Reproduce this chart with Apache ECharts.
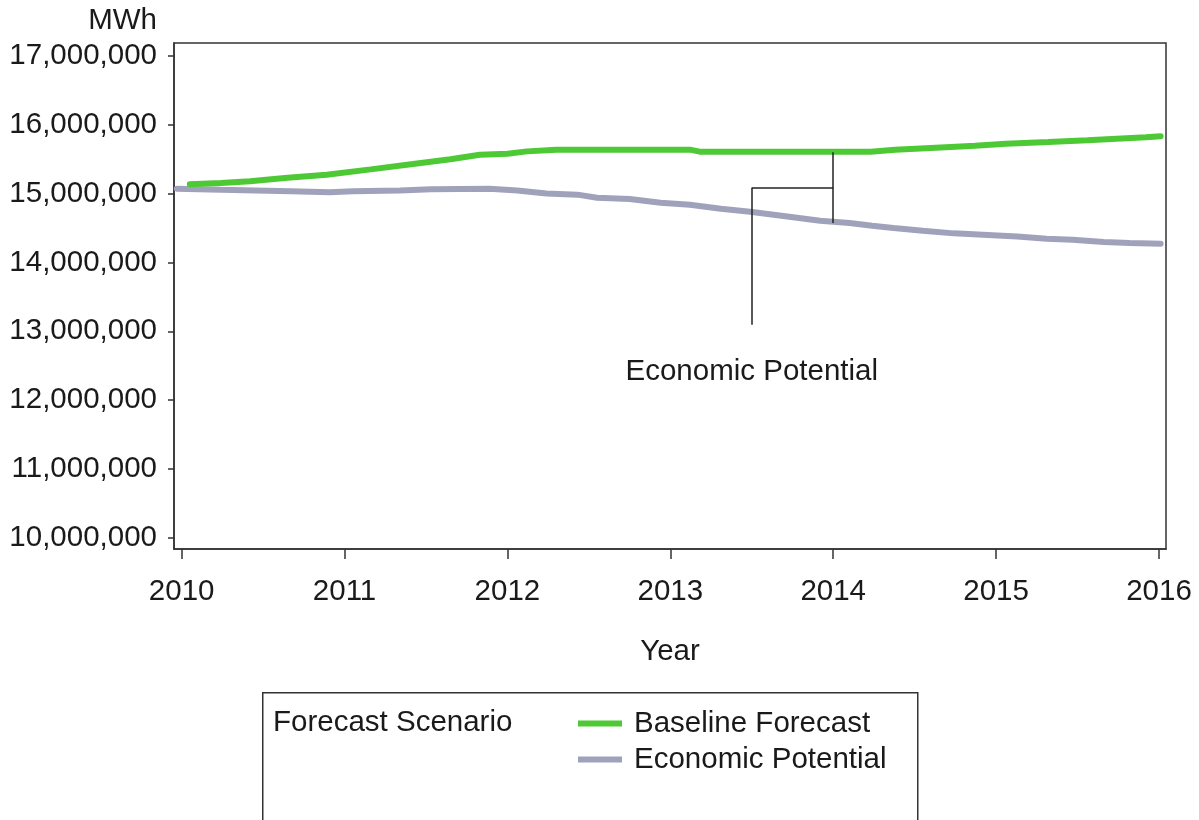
<!DOCTYPE html>
<html>
<head>
<meta charset="utf-8">
<script src="https://cdn.jsdelivr.net/npm/echarts@6/dist/echarts.min.js"></script>
<style>
html,body{margin:0;padding:0;background:#fff;}
#chart{width:1199px;height:820px;}
</style>
</head>
<body>
<div id="chart"></div>
<script>
// ---- Data ----
const yearTicks = [2010, 2011, 2012, 2013, 2014, 2015, 2016];
const valueTicks = [10000000, 11000000, 12000000, 13000000, 14000000, 15000000, 16000000, 17000000];

const baselineYears = [2010.05, 2010.24, 2010.42, 2010.65, 2010.89, 2011.16, 2011.42, 2011.65, 2011.83, 2012.00, 2012.12, 2012.30, 2013.12, 2013.18, 2014.23, 2014.38, 2014.66, 2014.87, 2015.06, 2015.32, 2015.56, 2015.74, 2015.92, 2016.01];
const baselineValues = [15135000, 15152000, 15176000, 15229000, 15273000, 15350000, 15428000, 15498000, 15563000, 15578000, 15611000, 15636000, 15636000, 15607000, 15607000, 15636000, 15669000, 15694000, 15723000, 15747000, 15771000, 15795000, 15817000, 15832000];

const economicYears = [2009.97, 2010.24, 2010.67, 2010.91, 2011.05, 2011.34, 2011.53, 2011.89, 2012.06, 2012.24, 2012.43, 2012.55, 2012.75, 2012.94, 2013.12, 2013.31, 2013.49, 2013.73, 2013.92, 2014.10, 2014.24, 2014.37, 2014.55, 2014.74, 2014.92, 2015.13, 2015.31, 2015.47, 2015.66, 2015.82, 2016.01];
const economicValues = [15070000, 15055000, 15033000, 15019000, 15033000, 15044000, 15062000, 15070000, 15044000, 15001000, 14983000, 14939000, 14920000, 14866000, 14837000, 14779000, 14736000, 14663000, 14605000, 14572000, 14533000, 14499000, 14460000, 14421000, 14402000, 14377000, 14344000, 14329000, 14296000, 14282000, 14271000];

// annotation (bracket + label) in data space
const annotYear = 2014;
const annotTop = 15597000;
const annotBottom = 14572000;
const annotLeftYear = 2013.5;
const annotStemBottom = 13096000;
const annotLabelValue = 12413000;
const annotLabel = 'Economic Potential';

const seriesNames = ['Baseline Forecast', 'Economic Potential'];
const legendTitle = 'Forecast Scenario';
// ---------------------------------------

const FONT = 'Liberation Sans, Arial, sans-serif';
const FS = 29.5;
const TXT = '#1a1a1a';
const AX = '#333333';
const fmt = v => Math.round(v).toString().replace(/\B(?=(\d{3})+(?!\d))/g, ',');
const annotMid = (annotTop + annotBottom) / 2;

const chart = echarts.init(document.getElementById('chart'), null, {renderer: 'canvas'});
chart.setOption({
  backgroundColor: '#ffffff',
  animation: false,
  grid: {
    left: 174, top: 43, right: 33, bottom: 271,
    show: true, borderColor: AX, borderWidth: 1.5, backgroundColor: 'transparent'
  },
  xAxis: {
    type: 'value',
    min: 2009.953, max: 2016.043,
    name: 'Year', nameLocation: 'middle', nameGap: 88,
    nameTextStyle: {fontFamily: FONT, fontSize: FS, color: TXT},
    axisLine: {show: true, onZero: false, lineStyle: {color: AX, width: 1.5}},
    axisTick: {show: true, length: 10, customValues: yearTicks, lineStyle: {color: AX, width: 1.5}},
    axisLabel: {customValues: yearTicks, margin: 28, fontFamily: FONT, fontSize: FS, color: TXT, formatter: v => String(Math.round(v))},
    splitLine: {show: false}
  },
  yAxis: {
    type: 'value',
    min: 9840000, max: 17184000,
    name: 'MWh', nameLocation: 'end', nameGap: 7,
    nameTextStyle: {fontFamily: FONT, fontSize: FS, color: TXT, align: 'right', padding: [0, 17, 0, 0]},
    axisLine: {show: true, onZero: false, lineStyle: {color: AX, width: 1.5}},
    axisTick: {show: true, length: 6, customValues: valueTicks, lineStyle: {color: AX, width: 1.5}},
    axisLabel: {customValues: valueTicks, margin: 17, fontFamily: FONT, fontSize: FS, color: TXT, formatter: fmt},
    splitLine: {show: false}
  },
  legend: {
    orient: 'vertical', left: 573, top: 703,
    icon: 'rect', itemWidth: 44, itemHeight: 6, itemGap: 5,
    textStyle: {fontFamily: FONT, fontSize: FS, color: TXT, lineHeight: 31, padding: [0, 0, 0, 7]},
    data: seriesNames
  },
  graphic: [
    {type: 'rect', left: 262, top: 692, shape: {width: 655, height: 140},
     style: {fill: 'transparent', stroke: AX, lineWidth: 1.5}, silent: true},
    {type: 'text', left: 273, top: 708,
     style: {text: legendTitle, fontFamily: FONT, fontSize: FS, fill: TXT}, silent: true}
  ],
  series: [
    {
      name: seriesNames[0], type: 'line', showSymbol: false, symbol: 'none',
      color: '#4ec936',
      lineStyle: {width: 6, color: '#4ec936', cap: 'round'},
      data: baselineYears.map((y, i) => [y, baselineValues[i]]),
      z: 3
    },
    {
      name: seriesNames[1], type: 'line', showSymbol: false, symbol: 'none',
      color: '#a0a2bb',
      lineStyle: {width: 6, color: '#a0a2bb', cap: 'round'},
      data: economicYears.map((y, i) => [y, economicValues[i]]),
      z: 2,
      markLine: {
        silent: true, symbol: 'none', animation: false,
        lineStyle: {color: '#222', width: 1.5, type: 'solid'},
        label: {show: false},
        data: [
          [{coord: [annotYear, annotTop]}, {coord: [annotYear, annotBottom]}],
          [{coord: [annotLeftYear, annotMid]}, {coord: [annotYear, annotMid]}],
          [{coord: [annotLeftYear, annotMid]}, {coord: [annotLeftYear, annotStemBottom]}]
        ]
      },
      markPoint: {
        silent: true, symbol: 'circle', symbolSize: 0, animation: false,
        label: {show: true, position: 'inside', formatter: annotLabel, fontFamily: FONT, fontSize: FS, color: TXT},
        data: [{coord: [annotLeftYear, annotLabelValue]}]
      }
    }
  ]
});
</script>
</body>
</html>
